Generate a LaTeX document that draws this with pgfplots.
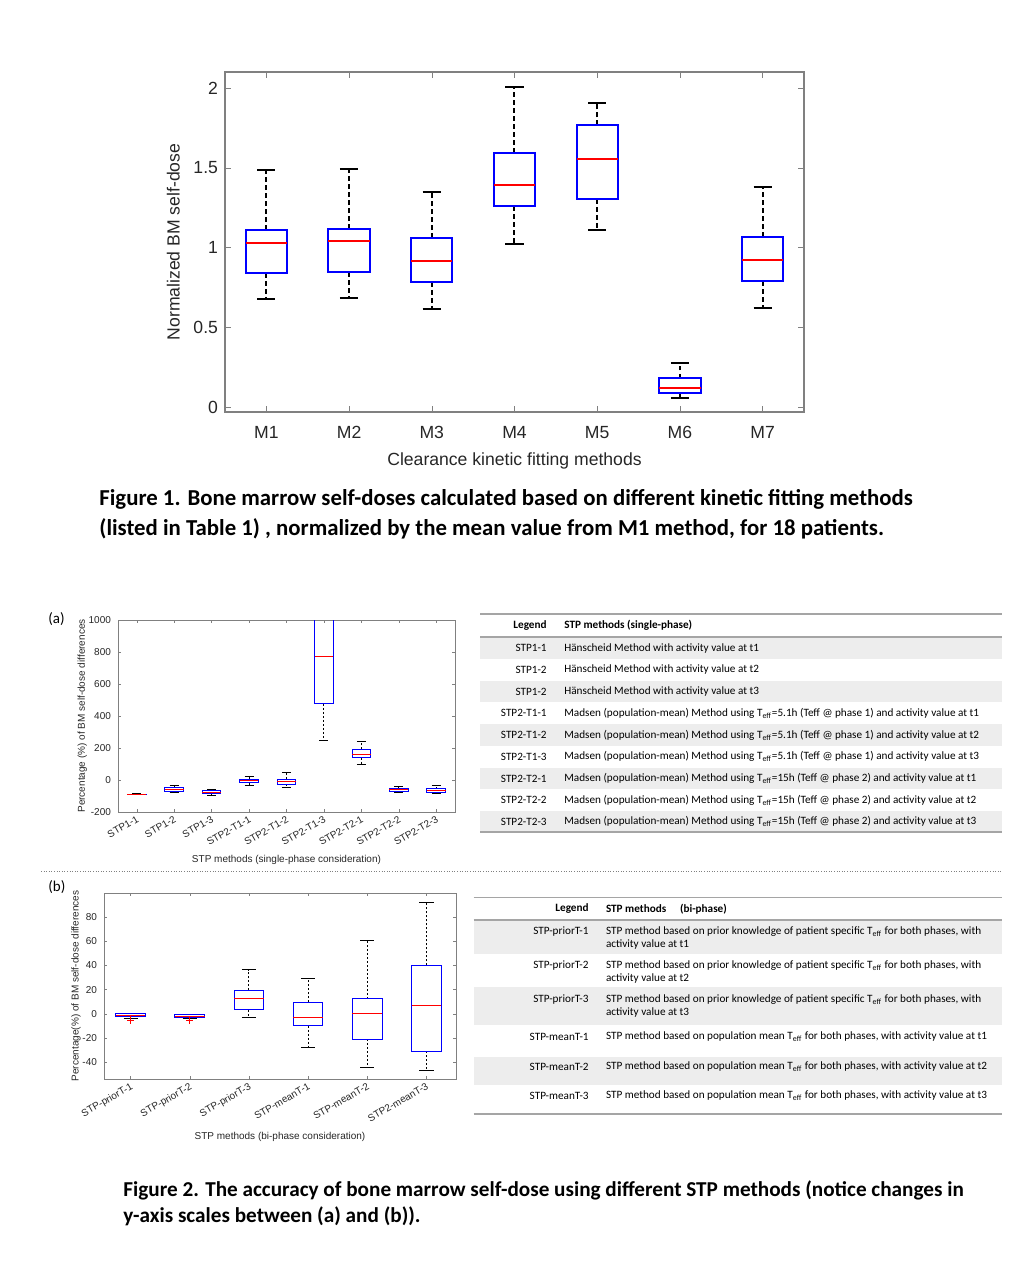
\documentclass[border=0pt]{standalone}
\usepackage{fontspec}
\setmainfont{Liberation Sans}
\newfontfamily\calibri{Carlito}
\usepackage{pgfplots}
\pgfplotsset{compat=1.18}
\usepgfplotslibrary{statistics}

\definecolor{rowgray}{RGB}{237,237,237}
\definecolor{rulegray}{RGB}{165,165,165}
\definecolor{mlaxis}{RGB}{128,128,128}
\definecolor{mltext}{RGB}{38,38,38}

\newcommand\Teff{T\textsubscript{eff}}

% MATLAB-like whiskers: dashed stem, solid cap
\tikzset{whiskerdash/.style={dash pattern=on 2.4pt off 1.6pt}}
\pgfplotsset{
  boxplot/draw/whisker/.code 2 args={%
    \draw[/pgfplots/boxplot/every whisker/.try, /tikz/whiskerdash]
      (boxplot cs:#1) -- (boxplot cs:#2);
    \draw[/pgfplots/boxplot/every whisker/.try, solid]
      (boxplot whisker cs:#2,0) -- (boxplot whisker cs:#2,1);
  },
  mlstyle/.style={
    scale only axis, anchor=south west,
    boxplot/draw direction=y,
    tick align=inside, tick pos=both,
    axis line style={mlaxis},
    tick style={mlaxis},
    ticklabel style={text=mltext},
    label style={text=mltext},
    scaled y ticks=false,
    /pgf/number format/assume math mode=true,
    /pgf/number format/1000 sep={},
  },
}

\begin{document}
\begin{tikzpicture}
\path (0,0) rectangle (518pt,-640pt);

% ===== Figure 1 =====
\begin{axis}[mlstyle,
  at={(112.5pt,-206pt)},
  width=289.5pt, height=170pt,
  xmin=0.5, xmax=7.5, ymin=-0.031, ymax=2.1,
  xtick={1,2,3,4,5,6,7},
  xticklabels={M1,M2,M3,M4,M5,M6,M7},
  ytick={0,0.5,1,1.5,2},
  major tick length=2.9pt,
  axis line style={line width=0.6pt},
  ticklabel style={font=\fontsize{8.8}{10}\selectfont},
  xticklabel style={yshift=-3.5pt},
  label style={font=\fontsize{8.8}{10}\selectfont},
  xlabel={Clearance kinetic fitting methods},
  ylabel={Normalized BM self-dose},
  boxplot/box extend=0.5, boxplot/whisker extend=0.22,
  boxplot/every box/.style={draw=blue, line width=1pt},
  boxplot/every median/.style={draw=red, line width=1pt},
  boxplot/every whisker/.style={draw=black, line width=1pt},
]
\addplot[boxplot prepared={draw position=1, lower whisker=0.680, lower quartile=0.841, median=1.031, upper quartile=1.109, upper whisker=1.485}] coordinates {};
\addplot[boxplot prepared={draw position=2, lower whisker=0.684, lower quartile=0.845, median=1.038, upper quartile=1.115, upper whisker=1.492}] coordinates {};
\addplot[boxplot prepared={draw position=3, lower whisker=0.615, lower quartile=0.785, median=0.914, upper quartile=1.059, upper whisker=1.347}] coordinates {};
\addplot[boxplot prepared={draw position=4, lower whisker=1.019, lower quartile=1.259, median=1.391, upper quartile=1.594, upper whisker=2.008}] coordinates {};
\addplot[boxplot prepared={draw position=5, lower whisker=1.111, lower quartile=1.305, median=1.552, upper quartile=1.766, upper whisker=1.904}] coordinates {};
\addplot[boxplot prepared={draw position=6, lower whisker=0.056, lower quartile=0.086, median=0.117, upper quartile=0.180, upper whisker=0.278}] coordinates {};
\addplot[boxplot prepared={draw position=7, lower whisker=0.619, lower quartile=0.787, median=0.921, upper quartile=1.065, upper whisker=1.379}] coordinates {};
\end{axis}

% ===== Figure 2 (a) =====
\begin{axis}[mlstyle,
  at={(59pt,-406pt)},
  width=168.5pt, height=96pt,
  xmin=0.5, xmax=9.5, ymin=-200, ymax=1000,
  xtick={1,2,3,4,5,6,7,8,9},
  xticklabels={STP1-1,STP1-2,STP1-3,STP2-T1-1,STP2-T1-2,STP2-T1-3,STP2-T2-1,STP2-T2-2,STP2-T2-3},
  ytick={-200,0,200,400,600,800,1000},
  major tick length=1.7pt,
  axis line style={line width=0.4pt},
  ticklabel style={font=\fontsize{5}{6}\selectfont},
  xticklabel style={rotate=30, anchor=north east, inner sep=1pt},
  label style={font=\fontsize{5}{6}\selectfont},
  xlabel={STP methods (single-phase consideration)},
  ylabel={Percentage (\%) of BM self-dose differences},
  ylabel shift=-6pt,
  boxplot/box extend=0.5, boxplot/whisker extend=0.24,
  boxplot/every box/.style={draw=blue, line width=0.5pt},
  boxplot/every median/.style={draw=red, line width=0.5pt},
  boxplot/every whisker/.style={draw=black, line width=0.5pt},
  /tikz/whiskerdash/.style={dash pattern=on 1pt off 1pt},
]
\addplot[boxplot prepared={draw position=1, lower whisker=-92, lower quartile=-90, median=-89, upper quartile=-88, upper whisker=-86}] coordinates {};
\addplot[boxplot prepared={draw position=2, lower whisker=-80, lower quartile=-70, median=-60, upper quartile=-49.5, upper whisker=-37}] coordinates {};
\addplot[boxplot prepared={draw position=3, lower whisker=-95, lower quartile=-85, median=-76, upper quartile=-68, upper whisker=-62}] coordinates {};
\addplot[boxplot prepared={draw position=4, lower whisker=-33, lower quartile=-16.5, median=-6, upper quartile=4, upper whisker=21}] coordinates {};
\addplot[boxplot prepared={draw position=5, lower whisker=-47, lower quartile=-25, median=-10, upper quartile=4, upper whisker=49.5}] coordinates {};
\addplot[boxplot prepared={draw position=6, lower whisker=245, lower quartile=476, median=770, upper quartile=1050, upper whisker=1200}] coordinates {};
\addplot[boxplot prepared={draw position=7, lower whisker=95, lower quartile=140, median=159, upper quartile=192, upper whisker=243}] coordinates {};
\addplot[boxplot prepared={draw position=8, lower whisker=-80, lower quartile=-72, median=-62, upper quartile=-54, upper whisker=-41}] coordinates {};
\addplot[boxplot prepared={draw position=9, lower whisker=-82, lower quartile=-78, median=-66, upper quartile=-54, upper whisker=-37}] coordinates {};
\end{axis}

% ===== Figure 2 (b) =====
\begin{axis}[mlstyle,
  at={(52pt,-539.5pt)},
  width=176pt, height=93pt,
  xmin=0.55, xmax=6.5, ymin=-54, ymax=100,
  xtick={1,2,3,4,5,6},
  xticklabels={STP-priorT-1,STP-priorT-2,STP-priorT-3,STP-meanT-1,STP-meanT-2,STP2-meanT-3},
  ytick={-40,-20,0,20,40,60,80},
  major tick length=1.7pt,
  axis line style={line width=0.4pt},
  ticklabel style={font=\fontsize{5}{6}\selectfont},
  xticklabel style={rotate=30, anchor=north east, inner sep=1pt},
  label style={font=\fontsize{5}{6}\selectfont},
  xlabel={STP methods (bi-phase consideration)},
  ylabel={Percentage(\%) of BM self-dose differences},
  ylabel shift=-6pt,
  boxplot/box extend=0.5, boxplot/whisker extend=0.24,
  boxplot/every box/.style={draw=blue, line width=0.5pt},
  boxplot/every median/.style={draw=red, line width=0.5pt},
  boxplot/every whisker/.style={draw=black, line width=0.5pt},
  /tikz/whiskerdash/.style={dash pattern=on 1pt off 1pt},
]
\addplot[mark=+, mark size=1.8pt, mark options={red, solid, line width=0.5pt},
  boxplot prepared={draw position=1, lower whisker=-3.9, lower quartile=-2.2, median=-1.1, upper quartile=0, upper whisker=0.5}]
  table[row sep=\\, y index=0] {data\\ -5.2\\};
\addplot[mark=+, mark size=1.8pt, mark options={red, solid, line width=0.5pt},
  boxplot prepared={draw position=2, lower whisker=-3.9, lower quartile=-2.8, median=-1.9, upper quartile=-0.8, upper whisker=-0.3}]
  table[row sep=\\, y index=0] {data\\ -5.8\\};
\addplot[boxplot prepared={draw position=3, lower whisker=-2.8, lower quartile=3.3, median=12.7, upper quartile=19.6, upper whisker=36.4}] coordinates {};
\addplot[boxplot prepared={draw position=4, lower whisker=-27.6, lower quartile=-9.7, median=-3.0, upper quartile=9.7, upper whisker=29.2}] coordinates {};
\addplot[boxplot prepared={draw position=5, lower whisker=-44.1, lower quartile=-21.2, median=0.3, upper quartile=12.4, upper whisker=60.5}] coordinates {};
\addplot[boxplot prepared={draw position=6, lower whisker=-47.2, lower quartile=-31.2, median=7.2, upper quartile=40.0, upper whisker=91.8}] coordinates {};
\end{axis}

% ===== text, tables, captions (pixel units) =====
\begin{scope}[x=0.5pt, y=-0.5pt]
  % captions
  \node[anchor=west, inner sep=0pt, font=\calibri\bfseries\fontsize{11.4}{13}\selectfont] at (99,499)
    {Figure 1. Bone marrow self-doses calculated based on different kinetic fitting methods};
  \node[anchor=west, inner sep=0pt, font=\calibri\bfseries\fontsize{11.4}{13}\selectfont] at (99,529)
    {(listed in Table 1) , normalized by the mean value from M1 method, for 18 patients.};
  \node[anchor=west, inner sep=0pt, font=\calibri\bfseries\fontsize{10.6}{12}\selectfont] at (123,1190)
    {Figure 2. The accuracy of bone marrow self-dose using different STP methods (notice changes in};
  \node[anchor=west, inner sep=0pt, font=\calibri\bfseries\fontsize{10.6}{12}\selectfont] at (123,1216)
    {y-axis scales between (a) and (b)).};

  % panel letters
  \node[anchor=west, inner sep=0pt, font=\calibri\fontsize{7.5}{9}\selectfont] at (48,619) {(a)};
  \node[anchor=west, inner sep=0pt, font=\calibri\fontsize{7.5}{9}\selectfont] at (48,887) {(b)};

  % separator
  \draw[gray, line width=0.4pt, dash pattern=on 0.5pt off 0.8pt] (41,871) -- (1002,871);

  % ---- table (a) ----
  \foreach \k in {0,2,4,6,8}
    \fill[rowgray] (480,{637.3+21.7*\k}) rectangle (1002,{659+21.7*\k});
  \draw[rulegray, line width=0.6pt] (480,614) -- (1002,614);
  \draw[rulegray, line width=0.9pt] (480,637.3) -- (1002,637.3);
  \draw[rulegray, line width=0.6pt] (480,832) -- (1002,832);
  \begin{scope}[every node/.style={inner sep=0pt, font=\calibri\fontsize{5.6}{6.5}\selectfont}]
    \node[anchor=east, font=\calibri\bfseries\fontsize{5.6}{6.5}\selectfont] at (547,625.7) {Legend};
    \node[anchor=west, font=\calibri\bfseries\fontsize{5.6}{6.5}\selectfont] at (564,625.7) {STP methods (single-phase)};
    \node[anchor=east] at (547,648.2) {STP1-1};
    \node[anchor=east] at (547,669.9) {STP1-2};
    \node[anchor=east] at (547,691.6) {STP1-2};
    \node[anchor=east] at (547,713.3) {STP2-T1-1};
    \node[anchor=east] at (547,735.0) {STP2-T1-2};
    \node[anchor=east] at (547,756.7) {STP2-T1-3};
    \node[anchor=east] at (547,778.4) {STP2-T2-1};
    \node[anchor=east] at (547,800.1) {STP2-T2-2};
    \node[anchor=east] at (547,821.8) {STP2-T2-3};
    \node[anchor=west] at (564,648.2) {Hänscheid Method with activity value at t1};
    \node[anchor=west] at (564,669.9) {Hänscheid Method with activity value at t2};
    \node[anchor=west] at (564,691.6) {Hänscheid Method with activity value at t3};
    \node[anchor=west] at (564,713.3) {Madsen (population-mean) Method using \Teff=5.1h (Teff @ phase 1) and activity value at t1};
    \node[anchor=west] at (564,735.0) {Madsen (population-mean) Method using \Teff=5.1h (Teff @ phase 1) and activity value at t2};
    \node[anchor=west] at (564,756.7) {Madsen (population-mean) Method using \Teff=5.1h (Teff @ phase 1) and activity value at t3};
    \node[anchor=west] at (564,778.4) {Madsen (population-mean) Method using \Teff=15h (Teff @ phase 2) and activity value at t1};
    \node[anchor=west] at (564,800.1) {Madsen (population-mean) Method using \Teff=15h (Teff @ phase 2) and activity value at t2};
    \node[anchor=west] at (564,821.8) {Madsen (population-mean) Method using \Teff=15h (Teff @ phase 2) and activity value at t3};
  \end{scope}

  % ---- table (b) ----
  \fill[rowgray] (473.5,920) rectangle (1002,954);
  \fill[rowgray] (473.5,986.7) rectangle (1002,1025);
  \fill[rowgray] (473.5,1056.7) rectangle (1002,1085);
  \draw[rulegray, line width=0.6pt] (473.5,897.3) -- (1002,897.3);
  \draw[rulegray, line width=0.9pt] (473.5,920) -- (1002,920);
  \draw[rulegray, line width=0.6pt] (473.5,1114) -- (1002,1114);
  \begin{scope}[every node/.style={inner sep=0pt, font=\calibri\fontsize{5.6}{6.5}\selectfont}]
    \node[anchor=east, font=\calibri\bfseries\fontsize{5.6}{6.5}\selectfont] at (589,909) {Legend};
    \node[anchor=west, font=\calibri\bfseries\fontsize{5.6}{6.5}\selectfont] at (605.6,909) {STP methods \quad(bi-phase)};
    \node[anchor=east] at (589,931.7) {STP-priorT-1};
    \node[anchor=east] at (589,965.7) {STP-priorT-2};
    \node[anchor=east] at (589,1000) {STP-priorT-3};
    \node[anchor=east] at (589,1036.7) {STP-meanT-1};
    \node[anchor=east] at (589,1066.7) {STP-meanT-2};
    \node[anchor=east] at (589,1095.7) {STP-meanT-3};
    \node[anchor=west] at (605.6,931.7) {STP method based on prior knowledge of patient specific \Teff{} for both phases, with};
    \node[anchor=west] at (605.6,944.3) {activity value at t1};
    \node[anchor=west] at (605.6,965.7) {STP method based on prior knowledge of patient specific \Teff{} for both phases, with};
    \node[anchor=west] at (605.6,978.7) {activity value at t2};
    \node[anchor=west] at (605.6,1000) {STP method based on prior knowledge of patient specific \Teff{} for both phases, with};
    \node[anchor=west] at (605.6,1012.7) {activity value at t3};
    \node[anchor=west] at (605.6,1036.7) {STP method based on population mean \Teff{} for both phases, with activity value at t1};
    \node[anchor=west] at (605.6,1066.7) {STP method based on population mean \Teff{} for both phases, with activity value at t2};
    \node[anchor=west] at (605.6,1095.7) {STP method based on population mean \Teff{} for both phases, with activity value at t3};
  \end{scope}
\end{scope}
\end{tikzpicture}
\end{document}
